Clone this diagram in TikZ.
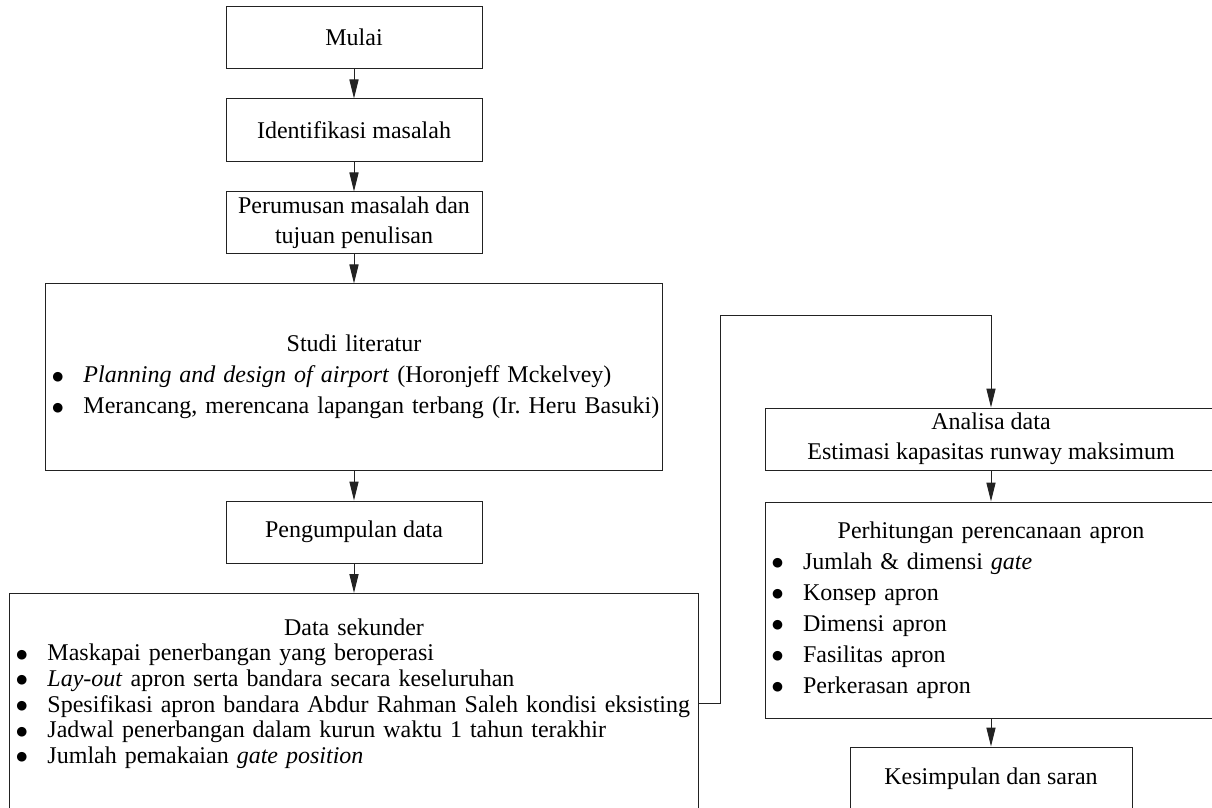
\documentclass[tikz,border=0pt]{standalone}
\usepackage{fontspec}
\setmainfont{Liberation Serif}
\newfontfamily\simbol{DejaVu Sans}
\usetikzlibrary{arrows.meta}
\usepackage{xcolor}
\definecolor{garis}{HTML}{222222}
\frenchspacing
\newcommand{\titik}{\raisebox{1.3pt}{\simbol\fontsize{6.3pt}{6.3pt}\selectfont ●}}
\newcommand{\butir}[1]{\hspace*{3.5pt}\makebox[15.5pt][l]{\titik}\mbox{#1}}

\begin{document}
\begin{tikzpicture}[
      x=0.5pt, y=-0.5pt,
      kotak/.style={rectangle, draw=garis, line width=0.5pt, minimum width=128pt, minimum height=31pt, inner sep=0pt, align=center, font=\fontsize{12pt}{15pt}\selectfont},
      kotaklist/.style={rectangle, draw=garis, line width=0.5pt, inner sep=0pt, align=left, font=\fontsize{12pt}{15.5pt}\selectfont},
      panah/.style={-{Triangle[length=9.5pt, width=4.6pt]}, line width=0.5pt, garis},
    ]
    \useasboundingbox (0,0) rectangle (1212,808);

    % kolom kiri
    \node[kotak] (mulai) at (354,37.5) {Mulai};
    \node[kotak, minimum height=31.5pt] (identifikasi) at (354,130.5) {Identifikasi masalah};
    \node[kotak] (rumusan) at (354,223) {Perumusan masalah dan\\tujuan penulisan};
    \node[kotaklist, text width=308.5pt, minimum height=93pt] (studi) at (354,377) {\makebox[\linewidth]{Studi literatur}\\
      \butir{\textit{Planning and design of airport} (Horonjeff Mckelvey)}\\
      \butir{Merancang, merencana lapangan terbang (Ir. Heru Basuki)}};
    \node[kotak] (pengumpulan) at (354,532) {Pengumpulan data};
    \node[kotaklist, text width=344.5pt, minimum height=110pt, anchor=north] (sekunder) at (354,593) {};
    \node[kotaklist, draw=none, text width=344.5pt, font=\fontsize{12pt}{12.8pt}\selectfont] (sekunderisi) at (354,693.5) {\makebox[\linewidth]{Data sekunder}\\
      \butir{Maskapai penerbangan yang beroperasi}\\
      \butir{\textit{Lay-out} apron serta bandara secara keseluruhan}\\
      \butir{Spesifikasi apron bandara Abdur Rahman Saleh kondisi eksisting}\\
      \butir{Jadwal penerbangan dalam kurun waktu 1 tahun terakhir}\\
      \butir{Jumlah pemakaian \textit{gate position}}};

    % kolom kanan
    \node[kotak, minimum width=226pt] (analisa) at (991,439) {Analisa data\\Estimasi kapasitas runway maksimum};
    \node[kotaklist, text width=226pt, minimum height=108pt] (perhitungan) at (991,610) {\makebox[\linewidth]{Perhitungan perencanaan apron}\\
      \butir{Jumlah \& dimensi \textit{gate}}\\
      \butir{Konsep apron}\\
      \butir{Dimensi apron}\\
      \butir{Fasilitas apron}\\
      \butir{Perkerasan apron}};
    \node[kotak, minimum width=141pt, minimum height=31.5pt] (kesimpulan) at (991,778.5) {Kesimpulan dan saran};

    \coordinate (belok) at (720,316);

    \draw[panah] (mulai) -- (identifikasi);
    \draw[panah] (identifikasi) -- (rumusan);
    \draw[panah] (rumusan) -- (studi);
    \draw[panah] (studi) -- (pengumpulan);
    \draw[panah] (pengumpulan) -- (sekunder);
    \draw[panah] (sekunder.east) -| (belok) -| (analisa.north);
    \draw[panah] (analisa) -- (perhitungan);
    \draw[panah] (perhitungan) -- (kesimpulan);
  \end{tikzpicture}
\end{document}
